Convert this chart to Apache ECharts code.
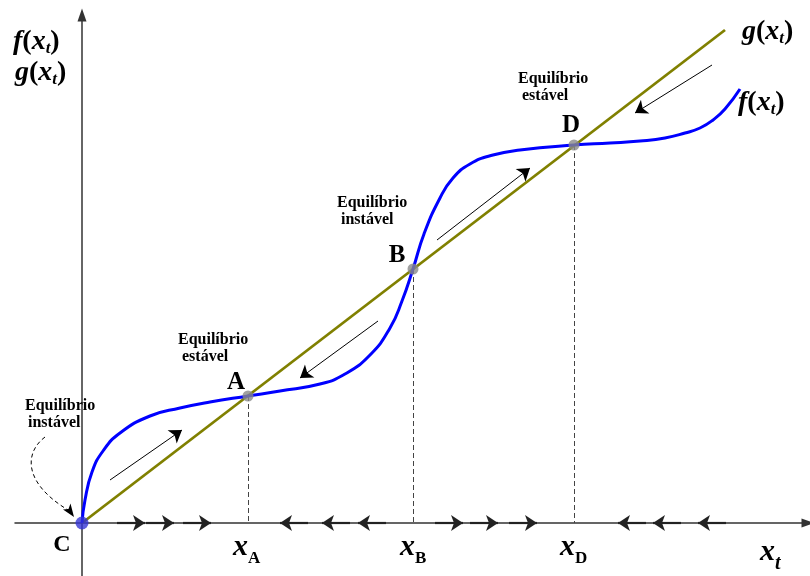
<!DOCTYPE html>
<html>
<head>
<meta charset="utf-8">
<script src="https://cdn.jsdelivr.net/npm/echarts@6/dist/echarts.min.js"></script>
<style>
  html, body { margin: 0; padding: 0; background: #fff; }
  #chart { width: 810px; height: 576px; }
</style>
</head>
<body>
<div id="chart"></div>
<script>
// f(x_t): S-shaped map, sampled along the curve
const fX = [0, 3, 10, 21, 38, 68, 98, 128, 166, 198, 238, 263, 288, 308, 320, 331, 342, 358, 371, 388, 411, 438, 492, 528, 558, 583, 603, 618, 631, 643, 658];
const fY = [0, 23, 51, 72, 90, 107, 115, 121, 127, 132, 139, 149, 168, 195, 222, 254, 289, 325, 345, 359, 368, 373, 378, 380, 382, 385, 390, 395, 403, 414, 434];

// g(x_t): straight line through the origin
const gX = [0, 643];
const gY = [0, 493];

// Equilibria where f and g cross
const eqNames = ['A', 'B', 'D'];
const eqX = [166, 331, 492];
const eqY = [127, 254, 378];

// Phase arrows on the x axis: [start, tip]
const axisArrows = [
  [35, 63], [64, 92], [101, 129],
  [226, 198], [268, 240], [304, 276],
  [353, 381], [388, 416], [427, 455],
  [564, 536], [599, 571], [644, 616]
];

// Flow arrows drawn beside the curves: [[x0, y0], [x1, y1]]
const flowArrows = [
  [[28, 43], [100, 93]],
  [[296, 202], [218, 145]],
  [[355, 283], [448, 355]],
  [[630, 458], [553, 410]]
];

const SERIF = '"Liberation Serif", "Times New Roman", serif';
const OLIVE = '#808000';
const BLUE = '#0000ff';

const chart = echarts.init(document.getElementById('chart'), null, { renderer: 'canvas' });

function zip(xs, ys) { return xs.map((x, i) => [x, ys[i]]); }

// Rich-text styles: italic math, upright parens, subscripts
function mathRich(mainSize, subSize, lineH, subItalic) {
  return {
    m: { fontFamily: SERIF, fontSize: mainSize, fontStyle: 'italic', fontWeight: 'bold', lineHeight: lineH, fill: '#000' },
    p: { fontFamily: SERIF, fontSize: mainSize, fontStyle: 'normal', fontWeight: 'bold', lineHeight: lineH, fill: '#000' },
    s: { fontFamily: SERIF, fontSize: subSize, fontStyle: subItalic ? 'italic' : 'normal', fontWeight: 'bold', lineHeight: subSize, verticalAlign: 'bottom', fill: '#000' }
  };
}

function mathText(x, y, text, rich) {
  return {
    type: 'text', z: 100,
    style: { x: x, y: y, text: text, rich: rich, textAlign: 'left', textVerticalAlign: 'middle', align: 'left', verticalAlign: 'middle' }
  };
}

function plainText(x, y, text, size, align) {
  return {
    type: 'text', z: 100,
    style: {
      x: x, y: y, text: text, fill: '#000',
      font: 'bold ' + size + 'px ' + SERIF,
      textAlign: align || 'left', align: align || 'left',
      textVerticalAlign: align === 'center' ? 'middle' : 'top',
      verticalAlign: align === 'center' ? 'middle' : 'top'
    }
  };
}

const fxRich = mathRich(28, 17, 30, true);
const xSubRich = mathRich(30, 17, 40, false);
const xtRich = mathRich(30, 20, 43, true);

const graphics = [
  // axis titles
  mathText(13, 42, '{m|f}{p|(}{m|x}{s|t}{p|)}', fxRich),
  mathText(15, 73, '{m|g}{p|(}{m|x}{s|t}{p|)}', fxRich),
  mathText(742, 32, '{m|g}{p|(}{m|x}{s|t}{p|)}', fxRich),
  mathText(738, 103, '{m|f}{p|(}{m|x}{s|t}{p|)}', fxRich),
  mathText(760, 552, '{m|x}{s|t}', xtRich),
  // equilibrium abscissae
  mathText(233, 547, '{m|x}{s|A}', xSubRich),
  mathText(400, 547, '{m|x}{s|B}', xSubRich),
  mathText(560, 547, '{m|x}{s|D}', xSubRich),
  // point letters
  plainText(236, 383, 'A', 25, 'center'),
  plainText(397, 256, 'B', 25, 'center'),
  plainText(571, 126, 'D', 25, 'center'),
  plainText(62, 545, 'C', 24, 'center'),
  // stability notes
  plainText(178, 332, 'Equilíbrio', 16), plainText(182, 349, 'estável', 16),
  plainText(337, 195, 'Equilíbrio', 16), plainText(341, 212, 'instável', 16),
  plainText(518, 71, 'Equilíbrio', 16), plainText(522, 88, 'estável', 16),
  plainText(25, 398, 'Equilíbrio', 16), plainText(28, 415, 'instável', 16),
  // dashed pointer to C
  {
    type: 'bezierCurve', z: 90,
    shape: { x1: 45, y1: 437, cpx1: 25, cpy1: 452, cpx2: 22, cpy2: 482, x2: 68, y2: 510 },
    style: { stroke: '#000', lineWidth: 1, lineDash: [4, 3], fill: null }
  },
  {
    type: 'polygon', z: 90,
    shape: { points: [[74, 517], [63, 509.5], [68.5, 509], [70.5, 503.5]] },
    style: { fill: '#000' }
  }
];

const option = {
  animation: false,
  backgroundColor: '#fff',
  grid: { left: 15, right: 2, top: 15, bottom: 0, containLabel: false },
  xAxis: {
    type: 'value', min: -67, max: 726,
    axisLine: { onZero: true, symbol: ['none', 'triangle'], symbolSize: [9, 13], lineStyle: { color: '#333', width: 1.5 } },
    axisTick: { show: false }, axisLabel: { show: false }, splitLine: { show: false }
  },
  yAxis: {
    type: 'value', min: -53, max: 508,
    axisLine: { onZero: true, symbol: ['none', 'triangle'], symbolSize: [9, 13], lineStyle: { color: '#333', width: 1.5 } },
    axisTick: { show: false }, axisLabel: { show: false }, splitLine: { show: false }
  },
  series: [
    {
      name: 'drop', type: 'lines', coordinateSystem: 'cartesian2d', z: 2,
      symbol: ['none', 'none'],
      lineStyle: { color: '#444', width: 1, type: [5, 3], opacity: 1 },
      data: eqX.map((x, i) => ({ coords: [[x, eqY[i]], [x, 0]] }))
    },
    {
      name: 'axisArrows', type: 'lines', coordinateSystem: 'cartesian2d', z: 3,
      symbol: ['none', 'arrow'], symbolSize: 12,
      lineStyle: { color: '#222', width: 2.2, opacity: 1 },
      itemStyle: { color: '#111' },
      data: axisArrows.map(a => ({ coords: [[a[0], 0], [a[1], 0]] }))
    },
    {
      name: 'flow', type: 'lines', coordinateSystem: 'cartesian2d', z: 3,
      symbol: ['none', 'arrow'], symbolSize: 12,
      lineStyle: { color: '#000', width: 1, opacity: 1 },
      data: flowArrows.map(a => ({ coords: a }))
    },
    {
      name: 'g', type: 'line', z: 4, data: zip(gX, gY), showSymbol: false,
      lineStyle: { color: OLIVE, width: 2.8 }
    },
    {
      name: 'f', type: 'line', z: 5, data: zip(fX, fY), showSymbol: false,
      smooth: 0.5,
      lineStyle: { color: BLUE, width: 3 }
    },
    {
      name: 'equilibria', type: 'scatter', z: 6, symbolSize: 11,
      itemStyle: { color: '#8a8a8a' },
      data: eqX.map((x, i) => ({ name: eqNames[i], value: [x, eqY[i]] }))
    },
    {
      name: 'C', type: 'scatter', z: 6, symbolSize: 13,
      itemStyle: { color: '#3535d5' },
      data: [[0, 0]]
    }
  ],
  graphic: graphics
};

chart.setOption(option);
</script>
</body>
</html>
